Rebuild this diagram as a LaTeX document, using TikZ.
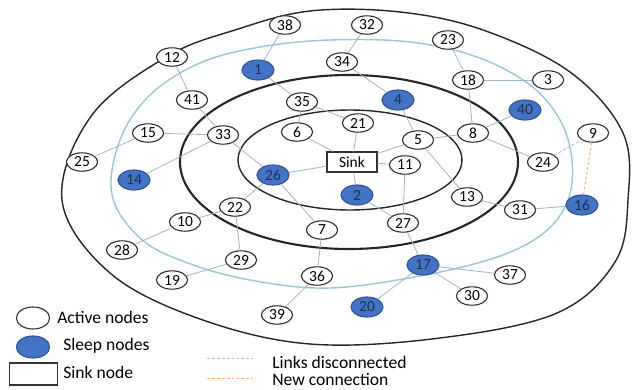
\documentclass[tikz,border=0pt]{standalone}
\usepackage{fontspec}
\setmainfont{Carlito}
\usetikzlibrary{shapes.geometric, positioning}
\definecolor{sleepBlue}{HTML}{4472C4}
\definecolor{sleepEdge}{HTML}{2F5597}
\definecolor{sleepText}{HTML}{1F2F4F}
\definecolor{linkGrey}{HTML}{A3B6C9}
\definecolor{ringBlue}{HTML}{9CC5D5}
\definecolor{lostBlue}{HTML}{9DC3E6}
\definecolor{newOrange}{HTML}{F4B183}
\newcommand\numfont{\fontsize{11}{12}\selectfont}
\newcommand\keyfont{\fontsize{12.5}{14}\selectfont}
\tikzset{
  active/.style   = {ellipse, draw=black!80, fill=white, line width=0.8pt,
                     minimum width=0.78cm, minimum height=0.46cm, inner sep=0pt,
                     font=\numfont},
  sleep/.style    = {ellipse, draw=sleepEdge, fill=sleepBlue, line width=0.8pt,
                     minimum width=0.8cm, minimum height=0.5cm, inner sep=0pt,
                     font=\numfont, text=sleepText},
  sinkbox/.style  = {rectangle, draw=black!80, fill=white, line width=0.8pt,
                     minimum width=1.25cm, minimum height=0.5cm, inner sep=0pt,
                     font=\numfont},
  link/.style     = {linkGrey, line width=0.6pt},
  lostlink/.style = {lostBlue, line width=0.7pt, dash pattern=on 2pt off 1.5pt},
  newlink/.style  = {newOrange, line width=0.7pt, dash pattern=on 2pt off 1.5pt},
  ring/.style     = {black!85, line width=1pt},
  thickring/.style= {black!85, line width=1.5pt},
  bluering/.style = {ringBlue, line width=1pt},
  key/.style      = {font=\keyfont, anchor=west, inner sep=0pt},
}
\begin{document}
\begin{tikzpicture}[x=0.025cm, y=-0.025cm]
  \useasboundingbox (0,0) rectangle (632,389);
  % rings round the sink
  \draw[ring] plot[smooth cycle, tension=0.6] coordinates {
    (62,200) (92,115) (168,56) (235,30) (310,11) (400,12) (483,30) (570,72)
    (623,133) (628,200) (615,262) (557,313) (440,338) (310,344) (200,319) (110,273)};
  \draw[bluering] plot[smooth cycle, tension=0.6] coordinates {
    (112,195) (120,140) (150,95) (200,63) (260,47) (330,40) (410,42) (477,57)
    (530,85) (560,120) (572,160) (568,200) (545,232) (500,256) (425,275)
    (330,288) (250,280) (185,262) (140,238)};
  \draw[thickring] (349,162) ellipse [x radius=169, y radius=87];
  \draw[ring] (350,160) ellipse [x radius=112, y radius=50];
  % sensor nodes
  \node[sinkbox] (sink) at (352,162) {Sink};
  \foreach \n/\x/\y in {38/285/25, 32/367/25, 23/448/40, 12/172/57, 18/468/80,
      3/548/80, 34/342/62, 41/192/100, 35/302/102, 21/358/123, 6/297/132,
      5/418/140, 8/473/133, 9/593/133, 15/148/133, 33/223/135, 25/82/162,
      24/543/162, 11/405/165, 13/467/197, 22/235/207, 10/185/222, 31/520/210,
      27/403/223, 7/322/230, 28/122/250, 29/241/260, 36/317/276, 37/510/275,
      19/172/280, 30/472/296, 39/277/315}
    \node[active] (n\n) at (\x,\y) {\n};
  \foreach \n/\x/\y in {1/258/70, 4/398/100, 40/525/110, 14/134/180, 26/273/175,
      2/357/195, 16/582/205, 17/423/265, 20/367/307}
    \node[sleep] (n\n) at (\x,\y) {\n};
  % links
  \foreach \a/\b in {38/1, 32/34, 34/4, 1/35, 35/6, 35/21, 4/5, 5/8, 5/13,
      23/18, 18/3, 18/8, 8/40, 8/24, 13/31, 31/16, 11/27, 27/2, 27/17, 17/37,
      17/30, 17/20, 26/7, 7/36, 36/39, 26/22, 22/10, 22/29, 29/19, 10/28,
      33/41, 41/12, 33/15, 15/25, 33/14, 33/26}
    \draw[link] (n\a) -- (n\b);
  \foreach \a in {21, 6, 26, 2, 11, 5}
    \draw[link] (sink) -- (n\a);
  \draw[lostlink] (n24) -- (n9);
  \draw[newlink] (n9) -- (n16);
  % legend
  \node[active, minimum width=0.83cm, minimum height=0.55cm] (keyactive) at (33,318) {};
  \node[key] (keyactivetxt) at (57,317) {Active nodes};
  \node[sleep, minimum width=0.83cm, minimum height=0.55cm] (keysleep) at (33,347) {};
  \node[key] (keysleeptxt) at (63,346) {Sleep nodes};
  \node[sinkbox, minimum width=1.18cm, minimum height=0.55cm] (keysink) at (33.5,374) {};
  \node[key] (keysinktxt) at (63,372) {Sink node};
  \draw[lostlink] (207,358) -- (253,358);
  \node[key] (keylost) at (272,362) {Links disconnected};
  \draw[newlink] (207,378) -- (253,378);
  \node[key] (keynew) at (272,379) {New connection};
\end{tikzpicture}
\end{document}
